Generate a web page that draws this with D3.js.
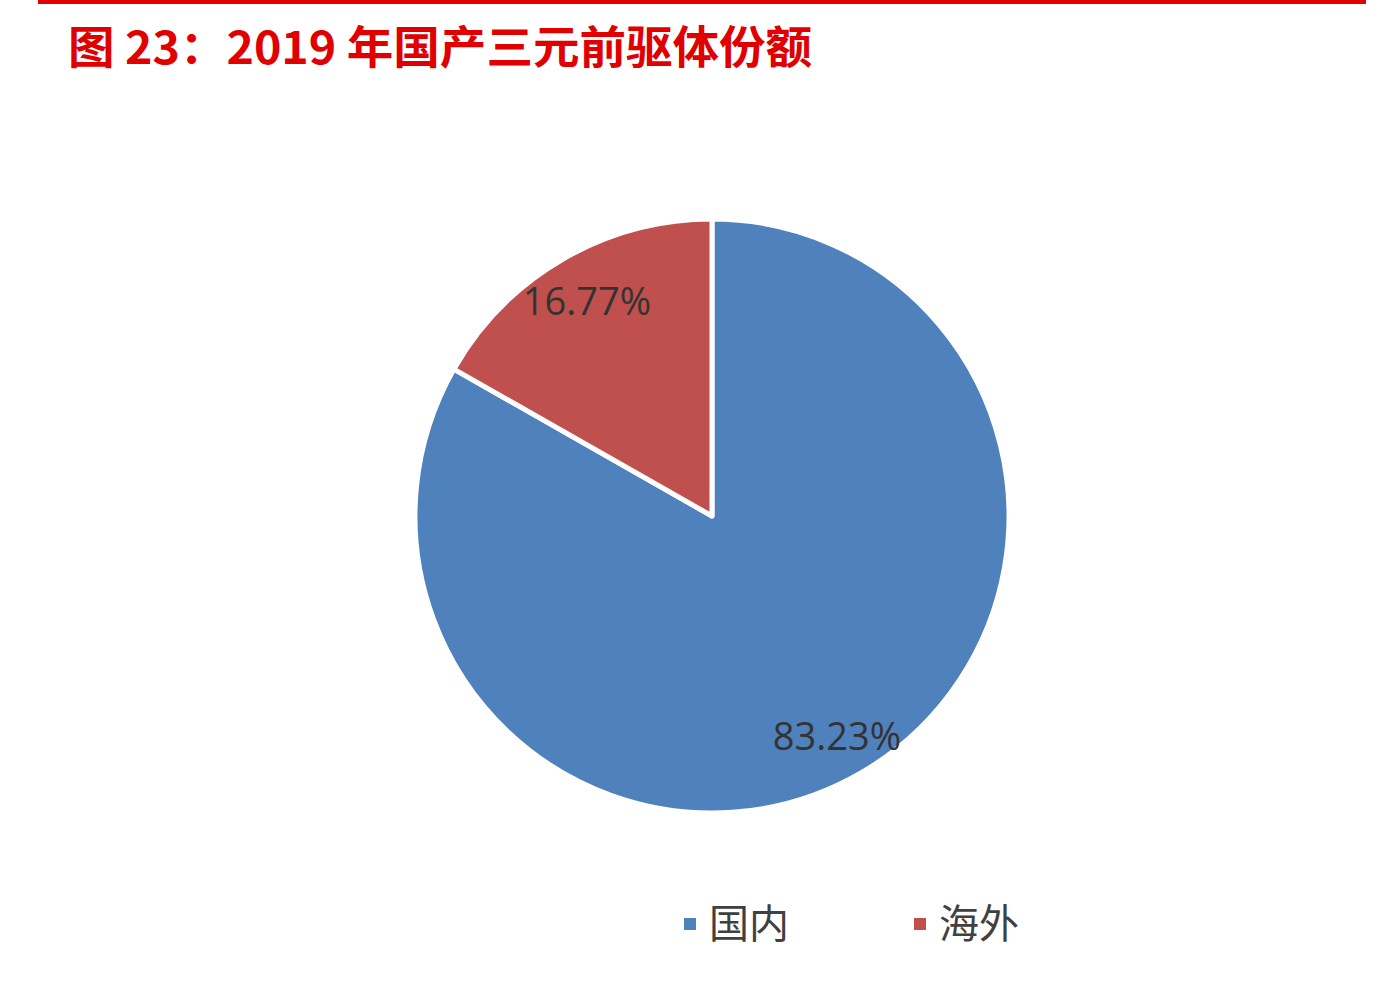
<!DOCTYPE html>
<html><head><meta charset="utf-8">
<script src="https://cdn.jsdelivr.net/npm/d3@7"></script>
<style>body{margin:0;background:#fff}</style>
</head><body>
<svg width="1398" height="986"></svg>
<script>
// Data
const categories = ["国内", "海外"];
const shares = [83.23, 16.77];
const labels = ["83.23%", "16.77%"];
const colors = ["#4f81bd", "#c0504d"];

const svg = d3.select("svg");
const cx = 712, cy = 516, r = 297;

// top red rule + title
svg.append("rect").attr("x", 38).attr("y", 0).attr("width", 1328).attr("height", 4).attr("fill", "#e00000");
svg.append("text").attr("x", 68).attr("y", 64)
    .attr("fill", "#e00000").style("font-size", "45px").style("font-weight", "bold")
    .attr("textLength", 744).attr("lengthAdjust", "spacingAndGlyphs")
    .style("font-family", "'Noto Sans CJK SC', sans-serif")
    .text("图 23：2019 年国产三元前驱体份额");

const pie = d3.pie().sort(null).value(d => d)
    .startAngle(0).endAngle(2 * Math.PI);
const arcs = pie(shares);
const arc = d3.arc().innerRadius(0).outerRadius(r);

const g = svg.append("g").attr("transform", `translate(${cx},${cy})`);
g.selectAll("path").data(arcs).join("path")
    .attr("d", arc)
    .attr("fill", (d, i) => colors[i])
    .attr("stroke", "#fff").attr("stroke-width", 5).attr("stroke-linejoin", "round");

// data labels
const labelPos = [[125, 219], [-125, -216]];
g.selectAll("text.lbl").data(arcs).join("text")
    .attr("class", "lbl")
    .attr("x", (d, i) => labelPos[i][0])
    .attr("y", (d, i) => labelPos[i][1])
    .attr("text-anchor", "middle").attr("dominant-baseline", "central")
    .attr("fill", "#333").style("font-size", "38px")
    .style("font-family", "'Open Sans', sans-serif")
    .text((d, i) => labels[i]);

// legend
const legendX = [684, 914];
const lg = svg.selectAll("g.leg").data(categories).join("g")
    .attr("class", "leg")
    .attr("transform", (d, i) => `translate(${legendX[i]},924)`);
lg.append("rect").attr("x", 0).attr("y", -6).attr("width", 12).attr("height", 12)
    .attr("fill", (d, i) => colors[i]);
lg.append("text").attr("x", 25).attr("y", -3).attr("dominant-baseline", "central")
    .attr("fill", "#404040").style("font-size", "40px")
    .style("font-family", "'Noto Sans CJK SC', sans-serif")
    .text(d => d);
</script>
</body></html>
